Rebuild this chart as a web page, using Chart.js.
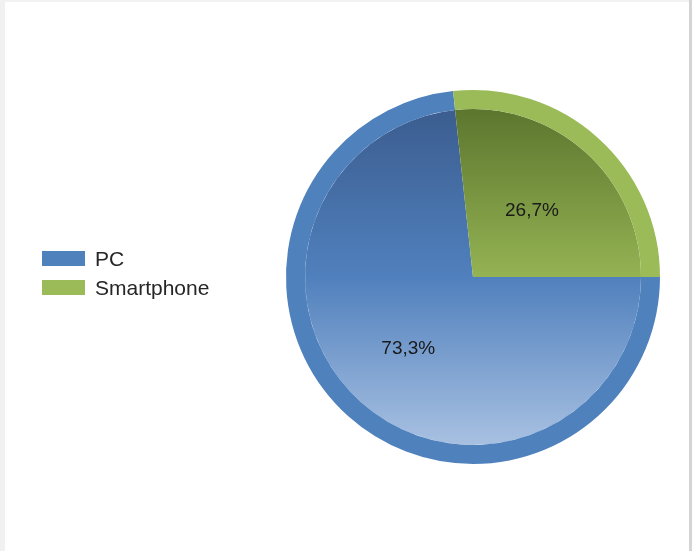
<!DOCTYPE html>
<html>
<head>
<meta charset="utf-8">
<script src="https://cdn.jsdelivr.net/npm/chart.js@4/dist/chart.umd.min.js"></script>
<style>
  html, body { margin: 0; padding: 0; background: #ffffff; }
  #wrap { position: relative; width: 692px; height: 551px; overflow: hidden; background: #fff; }
  #frameL { position: absolute; left: 0; top: 0; width: 5px; height: 551px; background: #f1f1f1; }
  #frameT { position: absolute; left: 0; top: 0; width: 692px; height: 2px; background: #f1f1f1; }
  #frameR { position: absolute; right: 0; top: 0; width: 3px; height: 551px; background: #d4d4d4; }
  canvas { position: absolute; left: 0; top: 0; }
</style>
</head>
<body>
<div id="wrap">
  <canvas id="c" width="692" height="551"></canvas>
  <div id="frameL"></div><div id="frameT"></div><div id="frameR"></div>
</div>
<script>
const categories = ['PC', 'Smartphone'];
const shares = [73.3, 26.7];
const ringColors = ['#4f81bd', '#9bbb59'];
const gradTop = ['#39598a', '#566f2a'];
const gradMid = ['#5080bd', '#94b353'];
const gradBot = ['#b2c8e6', '#c9dc9c'];

function fillFor(ctx) {
  const chart = ctx.chart;
  const area = chart.chartArea;
  if (!area || !isFinite(area.top) || !isFinite(area.bottom)) return ringColors[ctx.dataIndex];
  const cy = (area.top + area.bottom) / 2;
  const r = Math.min(area.right - area.left, area.bottom - area.top) / 2;
  if (!isFinite(cy) || !isFinite(r) || r <= 0) return ringColors[ctx.dataIndex];
  const g = chart.ctx.createLinearGradient(0, cy - r, 0, cy + r);
  const i = ctx.dataIndex;
  g.addColorStop(0, gradTop[i]);
  g.addColorStop(0.5, gradMid[i]);
  g.addColorStop(1, gradBot[i]);
  return g;
}

const labelPlugin = {
  id: 'pctLabels',
  afterDatasetsDraw(chart) {
    const meta = chart.getDatasetMeta(1);
    const c = chart.ctx;
    c.save();
    c.font = '19px "Liberation Sans", Arial, sans-serif';
    c.fillStyle = '#1a1a1a';
    c.textAlign = 'center';
    c.textBaseline = 'middle';
    meta.data.forEach((arc, i) => {
      const mid = (arc.startAngle + arc.endAngle) / 2;
      const R = chart.getDatasetMeta(0).data[i].outerRadius;
      const rr = R * (i === 0 ? 0.51 : 0.48);
      const txt = shares[i].toFixed(1).replace('.', ',') + '%';
      c.fillText(txt, arc.x + Math.cos(mid) * rr - 1, arc.y + Math.sin(mid) * rr + 1);
    });
    c.restore();
  }
};

const legendPlugin = {
  id: 'sideLegend',
  afterDraw(chart) {
    const c = chart.ctx;
    c.save();
    c.font = '21px "Liberation Sans", Arial, sans-serif';
    c.textBaseline = 'middle';
    c.textAlign = 'left';
    chart.data.labels.forEach((lab, i) => {
      const y = 259 + i * 29;
      c.fillStyle = ringColors[i];
      c.fillRect(42, y - 8, 43, 15);
      c.fillStyle = '#262626';
      c.fillText(lab, 95, y + 1);
    });
    c.restore();
  }
};

new Chart(document.getElementById('c'), {
  type: 'pie',
  data: {
    labels: categories,
    datasets: [
      { data: shares, backgroundColor: ringColors, borderWidth: 0, weight: 19 },
      { data: shares, backgroundColor: fillFor, borderWidth: 0, weight: 168 }
    ]
  },
  options: {
    responsive: false,
    animation: false,
    rotation: 90,
    layout: { padding: { left: 286, right: 32, top: 90, bottom: 87 } },
    plugins: { legend: { display: false }, tooltip: { enabled: false } },
    events: []
  },
  plugins: [labelPlugin, legendPlugin]
});
</script>
</body>
</html>
